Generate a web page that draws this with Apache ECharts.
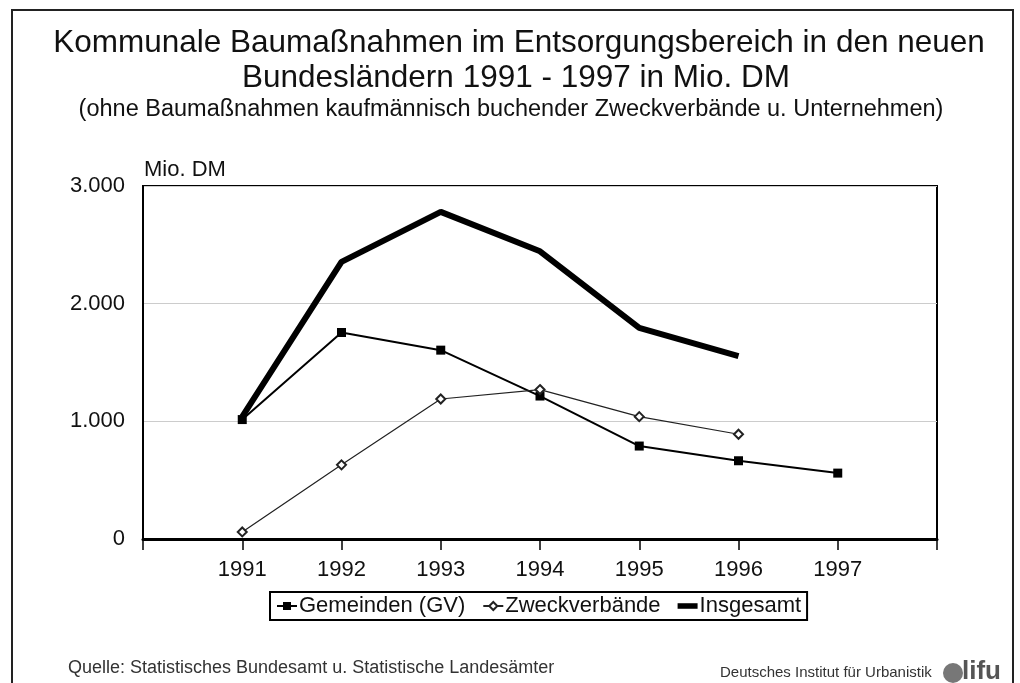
<!DOCTYPE html>
<html>
<head>
<meta charset="utf-8">
<script src="https://cdn.jsdelivr.net/npm/echarts@6/dist/echarts.min.js"></script>
<style>
html,body{margin:0;padding:0;background:#fff;}
#chart{width:1020px;height:683px;}
</style>
</head>
<body>
<div id="chart"></div>
<script>
var years = [1991, 1992, 1993, 1994, 1995, 1996, 1997];
var gemeinden = [1015, 1755, 1605, 1215, 790, 665, 560];
var zweckverbaende = [60, 630, 1190, 1270, 1040, 890];
var insgesamt = [1040, 2355, 2780, 2445, 1795, 1555];
var yTicks = [0, 1000, 2000, 3000];
var yTickLabels = ['0', '1.000', '2.000', '3.000'];
var seriesNames = ['Gemeinden (GV)', 'Zweckverbände', 'Insgesamt'];

function pairs(vals) {
  return vals.map(function (v, i) { return [years[i], v]; });
}

var FONT = '"Liberation Sans", Arial, sans-serif';
var chart = echarts.init(document.getElementById('chart'), null, {renderer: 'canvas'});

chart.setOption({
  backgroundColor: '#fff',
  animation: false,
  textStyle: {fontFamily: FONT, color: '#111'},
  grid: {
    left: 143, top: 186, width: 794, height: 353,
    show: true, borderColor: '#000', borderWidth: 2, backgroundColor: 'transparent'
  },
  legend: {
    data: [
      {name: seriesNames[0]},
      {name: seriesNames[1]},
      {name: seriesNames[2], icon: 'path://M0,0 L18,0 L18,5 L0,5 Z'}
    ],
    left: 270, top: 592,
    padding: [3, 6, 3, 6],
    itemGap: 17,
    itemWidth: 20,
    itemHeight: 10,
    borderColor: '#000',
    borderWidth: 2,
    textStyle: {fontFamily: FONT, fontSize: 22, color: '#111', padding: [0, 0, 0, -3]}
  },
  xAxis: {
    type: 'value',
    min: 1990, max: 1998, interval: 1,
    axisLine: {show: true, lineStyle: {color: '#000', width: 3}},
    axisTick: {show: true, length: 11, lineStyle: {color: '#000', width: 1.5}},
    splitLine: {show: false},
    axisLabel: {
      margin: 20, fontSize: 22, color: '#111', fontFamily: FONT,
      formatter: function (v) { return years.indexOf(v) >= 0 ? String(v) : ''; }
    }
  },
  yAxis: {
    type: 'value',
    min: 0, max: 3000, interval: 1000,
    axisLine: {show: true, lineStyle: {color: '#000', width: 2}},
    axisTick: {show: false},
    splitLine: {show: true, lineStyle: {color: '#cccccc', width: 1}},
    axisLabel: {
      margin: 18, fontSize: 22, color: '#111', fontFamily: FONT,
      formatter: function (v) { var i = yTicks.indexOf(v); return i >= 0 ? yTickLabels[i] : ''; }
    }
  },
  series: [
    {
      name: seriesNames[0], type: 'line', data: pairs(gemeinden),
      symbol: 'rect', symbolSize: 9,
      lineStyle: {color: '#000', width: 2},
      itemStyle: {color: '#000'}
    },
    {
      name: seriesNames[1], type: 'line', data: pairs(zweckverbaende),
      symbol: 'emptyDiamond', symbolSize: 9,
      lineStyle: {color: '#222', width: 1.2},
      itemStyle: {color: '#222', borderColor: '#222', borderWidth: 1}
    },
    {
      name: seriesNames[2], type: 'line', data: pairs(insgesamt),
      symbol: 'none',
      lineStyle: {color: '#000', width: 6},
      itemStyle: {color: '#000'}
    }
  ],
  graphic: [
    {type: 'rect', shape: {x: 12, y: 10, width: 1001, height: 700}, style: {fill: 'none', stroke: '#222', lineWidth: 2}, z: 0},
    {type: 'text', style: {x: 519, y: 43, text: 'Kommunale Baumaßnahmen im Entsorgungsbereich in den neuen', textAlign: 'center', textVerticalAlign: 'middle', font: '31.5px ' + FONT, fill: '#111'}},
    {type: 'text', style: {x: 516, y: 78, text: 'Bundesländern 1991 - 1997 in Mio. DM', textAlign: 'center', textVerticalAlign: 'middle', font: '31.5px ' + FONT, fill: '#111'}},
    {type: 'text', style: {x: 511, y: 110, text: '(ohne Baumaßnahmen kaufmännisch buchender Zweckverbände u. Unternehmen)', textAlign: 'center', textVerticalAlign: 'middle', font: '23.5px ' + FONT, fill: '#111'}},
    {type: 'text', style: {x: 144, y: 170, text: 'Mio. DM', textAlign: 'left', textVerticalAlign: 'middle', font: '22px ' + FONT, fill: '#111'}},
    {type: 'text', style: {x: 68, y: 668, text: 'Quelle: Statistisches Bundesamt u. Statistische Landesämter', textAlign: 'left', textVerticalAlign: 'middle', font: '18px ' + FONT, fill: '#333'}},
    {type: 'text', style: {x: 720, y: 673, text: 'Deutsches Institut für Urbanistik', textAlign: 'left', textVerticalAlign: 'middle', font: '15px ' + FONT, fill: '#333'}},
    {type: 'circle', shape: {cx: 953, cy: 673, r: 10}, style: {fill: '#777'}},
    {type: 'text', style: {x: 962, y: 672, text: 'lifu', textAlign: 'left', textVerticalAlign: 'middle', font: 'bold 26px ' + FONT, fill: '#555'}}
  ]
});
</script>
</body>
</html>
